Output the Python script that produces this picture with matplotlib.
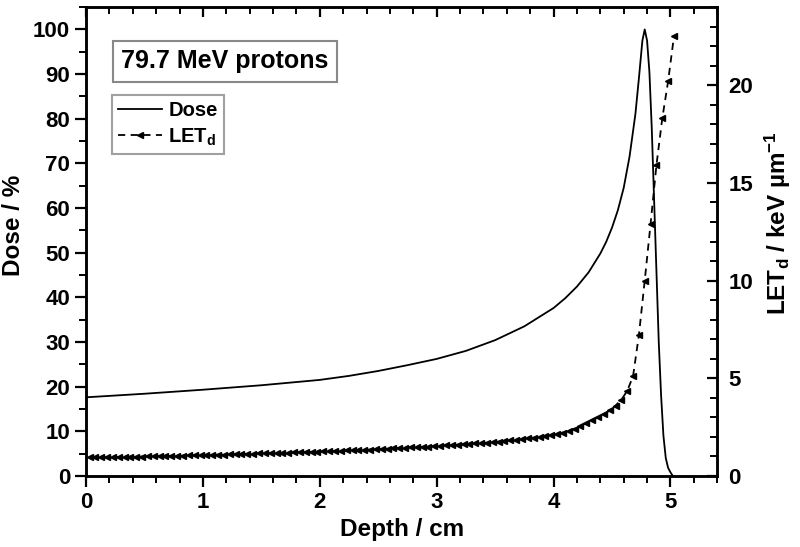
import matplotlib
matplotlib.use('Agg')
import matplotlib.pyplot as plt
from matplotlib.ticker import MultipleLocator

plt.rcParams['font.family'] = ['Liberation Sans', 'DejaVu Sans']
plt.rcParams['font.weight'] = 'bold'
plt.rcParams['mathtext.fontset'] = 'custom'
plt.rcParams['mathtext.bf'] = 'Liberation Sans:bold'
plt.rcParams['mathtext.rm'] = 'Liberation Sans:bold'
plt.rcParams['mathtext.default'] = 'bf'

# dose curve (depth in cm, dose in %)
dose_depth = [0.0, 0.5, 1.0, 1.5, 2.0, 2.25, 2.5, 2.75, 3.0, 3.25, 3.5, 3.75,
              4.0, 4.1, 4.2, 4.3, 4.4, 4.45, 4.5, 4.55, 4.6, 4.65, 4.7, 4.73,
              4.76, 4.78, 4.80, 4.82, 4.84, 4.86, 4.88, 4.90, 4.92, 4.94,
              4.96, 4.98, 5.00, 5.02]
dose = [17.6, 18.4, 19.3, 20.3, 21.5, 22.4, 23.5, 24.8, 26.2, 28.0, 30.4,
        33.5, 37.6, 39.8, 42.4, 45.6, 49.8, 52.4, 55.6, 59.5, 64.5, 71.5,
        81.0, 89.0, 97.5, 100.0, 97.5, 90.5, 78.0, 62.0, 46.0, 30.0, 18.0,
        9.0, 4.0, 1.8, 0.8, 0.0]

# dose-averaged LET (keV/um)
let_depth = [0.03, 0.08, 0.13, 0.18, 0.23, 0.28, 0.33, 0.38, 0.43, 0.48,
             0.53, 0.58, 0.63, 0.68, 0.73, 0.78, 0.83, 0.88, 0.93, 0.98,
             1.03, 1.08, 1.13, 1.18, 1.23, 1.28, 1.33, 1.38, 1.43, 1.48,
             1.53, 1.58, 1.63, 1.68, 1.73, 1.78, 1.83, 1.88, 1.93, 1.98,
             2.03, 2.08, 2.13, 2.18, 2.23, 2.28, 2.33, 2.38, 2.43, 2.48,
             2.53, 2.58, 2.63, 2.68, 2.73, 2.78, 2.83, 2.88, 2.93, 2.98,
             3.03, 3.08, 3.13, 3.18, 3.23, 3.28, 3.33, 3.38, 3.43, 3.48,
             3.53, 3.58, 3.63, 3.68, 3.73, 3.78, 3.83, 3.88, 3.93, 3.98,
             4.03, 4.08, 4.13, 4.18, 4.23, 4.28, 4.33, 4.38, 4.43, 4.48,
             4.53, 4.58, 4.63, 4.68, 4.73, 4.78, 4.83, 4.88, 4.93, 4.98, 5.03]
let_d = [0.95, 0.95, 0.96, 0.96, 0.97, 0.97, 0.98, 0.98, 0.99, 0.99,
         1.00, 1.00, 1.01, 1.01, 1.02, 1.03, 1.04, 1.05, 1.05, 1.06,
         1.07, 1.08, 1.09, 1.09, 1.10, 1.11, 1.12, 1.13, 1.14, 1.15,
         1.15, 1.16, 1.17, 1.18, 1.19, 1.20, 1.21, 1.22, 1.23, 1.24,
         1.25, 1.26, 1.27, 1.28, 1.30, 1.31, 1.32, 1.34, 1.35, 1.37,
         1.38, 1.40, 1.41, 1.43, 1.44, 1.46, 1.47, 1.49, 1.50, 1.52,
         1.54, 1.56, 1.58, 1.60, 1.62, 1.64, 1.66, 1.68, 1.70, 1.73,
         1.76, 1.79, 1.82, 1.85, 1.88, 1.92, 1.96, 2.00, 2.04, 2.09,
         2.15, 2.22, 2.30, 2.42, 2.55, 2.70, 2.85, 3.00, 3.15, 3.35,
         3.60, 3.90, 4.35, 5.10, 7.20, 10.0, 12.9, 15.9, 18.3, 20.2, 22.5]

fig = plt.figure(figsize=(8, 5.47), dpi=100)
ax = fig.add_axes([0.1075, 0.130, 0.789, 0.857])
ax2 = ax.twinx()

l1, = ax.plot(dose_depth, dose, color='black', lw=1.3, label='Dose')
l2, = ax2.plot(let_depth, let_d, color='black', lw=1.3, ls=(0, (4, 3)),
               marker='<', ms=4, label='LET$_d$')

ax.set_xlim(0, 5.4)
ax.set_ylim(0, 105)
ax2.set_ylim(0, 24)

ax.xaxis.set_major_locator(MultipleLocator(1))
ax.xaxis.set_minor_locator(MultipleLocator(0.2))
ax.yaxis.set_major_locator(MultipleLocator(10))
ax.yaxis.set_minor_locator(MultipleLocator(5))
ax2.yaxis.set_major_locator(MultipleLocator(5))
ax2.yaxis.set_minor_locator(MultipleLocator(1))

for a in (ax, ax2):
    for s in a.spines.values():
        s.set_linewidth(1.8)

ax.tick_params(which='major', direction='out', length=8, width=1.6, labelsize=16)
ax.tick_params(which='minor', direction='out', length=5, width=1.4)
ax2.tick_params(which='major', direction='in', length=7, width=1.6, labelsize=16, pad=8)
ax2.tick_params(which='minor', direction='in', length=5, width=1.4)

top = ax.secondary_xaxis('top')
top.xaxis.set_major_locator(MultipleLocator(1))
top.xaxis.set_minor_locator(MultipleLocator(0.2))
top.tick_params(which='major', direction='in', length=7, width=1.6, labeltop=False)
top.tick_params(which='minor', direction='in', length=5, width=1.4)

ax.set_xlabel('Depth / cm', fontsize=17.5, fontweight='bold', labelpad=4)
ax.set_ylabel('Dose / %', fontsize=17.5, fontweight='bold')
ax.yaxis.set_label_coords(-0.097, 0.535)
ax2.set_ylabel('LET$_d$ / keV \u00b5m$^{-1}$', fontsize=17.5, fontweight='bold')
ax2.yaxis.set_label_coords(1.072, 0.54)

ax2.text(0.056, 0.884, '79.7 MeV protons', transform=ax.transAxes, fontsize=18,
         fontweight='bold', va='center', ha='left',
         bbox=dict(boxstyle='square,pad=0.35', fc='white', ec='#888888', lw=1.5))

leg = ax2.legend(handles=[l1, l2], loc='upper left', bbox_to_anchor=(0.041, 0.812),
                 fontsize=14.5, frameon=True, fancybox=False, edgecolor='#888888',
                 handlelength=2.2, handletextpad=0.3, borderpad=0.3,
                 labelspacing=0.3, borderaxespad=0)
leg.get_frame().set_linewidth(1.5)

fig.savefig('out.png', dpi=100)
